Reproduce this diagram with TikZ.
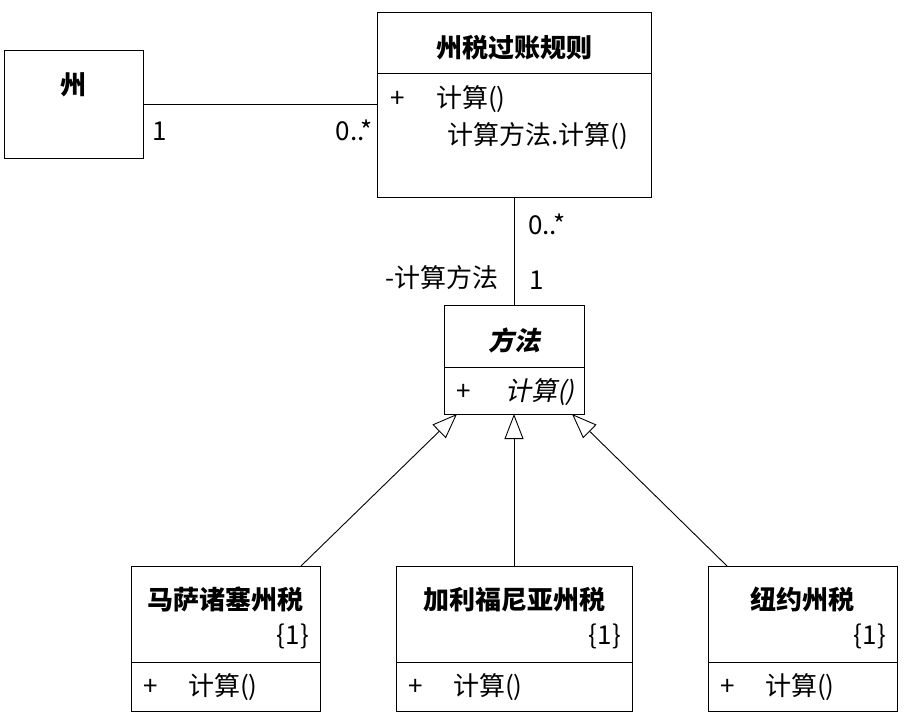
\documentclass[tikz,border=0pt]{standalone}
\usepackage{fontspec}
\setmainfont{Noto Sans CJK SC}
\newfontfamily\slantfont{Noto Sans CJK SC}[FakeSlant=0.2]
\usepackage{tikz}
\usetikzlibrary{positioning, arrows.meta}
\definecolor{lineColor}{RGB}{0, 0, 0}
\definecolor{textColor}{RGB}{0, 0, 0}
\tikzset{
    class_box/.style={
        rectangle,
        draw=lineColor,
        line width=0.9pt,
        inner sep=0pt,
        outer sep=0pt
    },
    member_text/.style={
        inner sep=0pt,
        anchor=base west,
        text=textColor,
        font=\fontsize{26}{30}\selectfont
    },
    title_text/.style={
        member_text,
        anchor=base,
        font=\fontsize{26}{30}\selectfont\bfseries
    },
    assoc_edge/.style={
        draw=lineColor,
        line width=0.9pt
    },
    inherit_edge/.style={
        assoc_edge,
        -{Triangle[open, length=25pt, width=19pt]}
    }
}

\begin{document}
\begin{tikzpicture}[x=1pt, y=-1pt]
    \useasboundingbox (0,0) rectangle (905,719);

    % state
    \node[class_box, minimum width=139pt, minimum height=108pt] (state) at (73.5,104) {};
    \node[title_text] (state_name) at ([yshift=-45pt]state.north) {州};

    % posting rule
    \node[class_box, minimum width=274pt, minimum height=61pt] (rule) at (514,42.5) {};
    \node[class_box, minimum width=274pt, minimum height=124pt, below=0pt of rule] (rule_ops) {};
    \node[title_text] (rule_name) at ([yshift=-46pt]rule.north) {州税过账规则};
    \node[member_text] (rule_vis) at ([xshift=13pt, yshift=-35pt]rule_ops.north west) {+};
    \node[member_text] (rule_op) at ([xshift=59pt, yshift=-35pt]rule_ops.north west) {计算()};
    \node[member_text] (rule_call) at ([xshift=70pt, yshift=-72pt]rule_ops.north west) {计算方法.计算()};

    % strategy
    \node[class_box, minimum width=140pt, minimum height=62pt] (method) at (514,336) {};
    \node[class_box, minimum width=140pt, minimum height=47pt, below=0pt of method] (method_ops) {};
    \node[title_text, font=\fontsize{26}{30}\selectfont\slantfont\bfseries] (method_name) at ([yshift=-45pt]method.north) {方法};
    \node[member_text] (method_vis) at ([xshift=12pt, yshift=-33pt]method_ops.north west) {+};
    \node[member_text, font=\fontsize{26}{30}\selectfont\slantfont] (method_op) at ([xshift=61pt, yshift=-33pt]method_ops.north west) {计算()};

    % concrete strategies
    \node[class_box, minimum width=189pt, minimum height=96pt] (mass) at (225.5,614) {};
    \node[class_box, minimum width=189pt, minimum height=49pt, below=0pt of mass] (mass_ops) {};
    \node[title_text] (mass_name) at ([yshift=-43pt]mass.north) {马萨诸塞州税};
    \node[member_text, anchor=base east] (mass_tag) at ([xshift=-11pt, yshift=-78pt]mass.north east) {\{1\}};
    \node[member_text] (mass_vis) at ([xshift=12pt, yshift=-33pt]mass_ops.north west) {+};
    \node[member_text] (mass_op) at ([xshift=57pt, yshift=-33pt]mass_ops.north west) {计算()};

    \node[class_box, minimum width=236pt, minimum height=96pt] (cal) at (514,614) {};
    \node[class_box, minimum width=236pt, minimum height=49pt, below=0pt of cal] (cal_ops) {};
    \node[title_text] (cal_name) at ([yshift=-43pt]cal.north) {加利福尼亚州税};
    \node[member_text, anchor=base east] (cal_tag) at ([xshift=-11pt, yshift=-78pt]cal.north east) {\{1\}};
    \node[member_text] (cal_vis) at ([xshift=12pt, yshift=-33pt]cal_ops.north west) {+};
    \node[member_text] (cal_op) at ([xshift=57pt, yshift=-33pt]cal_ops.north west) {计算()};

    \node[class_box, minimum width=189pt, minimum height=96pt] (ny) at (802.5,614) {};
    \node[class_box, minimum width=189pt, minimum height=49pt, below=0pt of ny] (ny_ops) {};
    \node[title_text] (ny_name) at ([yshift=-43pt]ny.north) {纽约州税};
    \node[member_text, anchor=base east] (ny_tag) at ([xshift=-11pt, yshift=-78pt]ny.north east) {\{1\}};
    \node[member_text] (ny_vis) at ([xshift=12pt, yshift=-33pt]ny_ops.north west) {+};
    \node[member_text] (ny_op) at ([xshift=57pt, yshift=-33pt]ny_ops.north west) {计算()};

    % associations
    \draw[assoc_edge] (state.east) -- (state.east -| rule_ops.west);
    \node[member_text] (state_mult) at ([xshift=9pt, yshift=-37pt]state.east) {1};
    \node[member_text, anchor=base east] (rule_mult) at ([xshift=-4pt, yshift=-37pt]state.east -| rule_ops.west) {0..*};

    \draw[assoc_edge] (rule_ops.south) -- (method.north);
    \node[member_text] (rule_mult2) at ([xshift=14pt, yshift=-38pt]rule_ops.south) {0..*};
    \node[member_text] (method_mult) at ([xshift=15pt, yshift=15pt]method.north) {1};
    \node[member_text, anchor=base east] (method_role) at ([xshift=-15pt, yshift=17pt]method.north) {-计算方法};

    % generalisations
    \draw[inherit_edge] ([xshift=-19pt]mass.north east) -- ([xshift=13pt]method_ops.south west);
    \draw[inherit_edge] (cal.north) -- (method_ops.south);
    \draw[inherit_edge] ([xshift=19pt]ny.north west) -- ([xshift=-12pt]method_ops.south east);
\end{tikzpicture}
\end{document}
